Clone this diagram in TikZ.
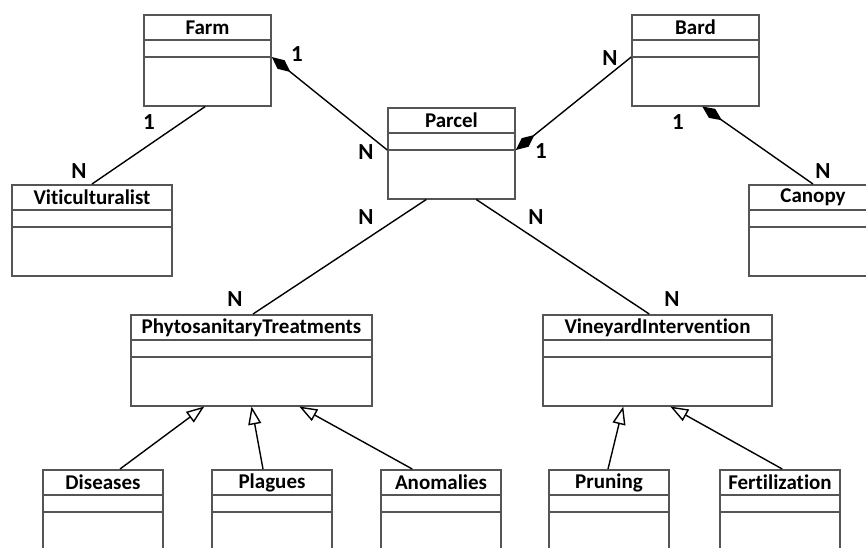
\documentclass[tikz,border=0pt]{standalone}
\usepackage{fontspec}
\setmainfont{Carlito}[Ligatures={NoCommon}]
\usetikzlibrary{arrows.meta,calc}

\definecolor{boxgray}{HTML}{555555}
\tikzset{
  classbox/.style={draw=boxgray, line width=1.5pt, fill=white, inner sep=0pt},
  classtitle/.style={font=\fontsize{21}{24}\selectfont\bfseries, inner sep=0pt, anchor=center},
  divider/.style={draw=boxgray, line width=1.5pt},
  mult/.style={font=\fontsize{23}{26}\selectfont\bfseries, inner sep=0pt},
  assoc/.style={draw=black, line width=1.4pt},
  compose/.style={assoc, {Diamond[length=24pt,width=11pt,fill=black]}-},
  inherit/.style={assoc, -{Triangle[open,length=18pt,width=13pt,fill=white]}},
}

% \umlclass{name}{centre x}{top y}{width}{title}
% header band 26, attribute band down to 43, whole class 91 high
\newcommand{\umlclass}[5]{%
  \node[classbox, minimum width=#4pt, minimum height=91pt, anchor=north] (#1) at (#2,#3) {};
  \node[classtitle] (#1-title) at ($(#1.north)+(0,13.5)$) {#5};
  \coordinate (#1-d1w) at ($(#1.north west)+(0,26)$);
  \coordinate (#1-d1e) at ($(#1.north east)+(0,26)$);
  \coordinate (#1-d2w) at ($(#1.north west)+(0,43)$);
  \coordinate (#1-d2e) at ($(#1.north east)+(0,43)$);
  \draw[divider] (#1-d1w) -- (#1-d1e);
  \draw[divider] (#1-d2w) -- (#1-d2e);
}

\begin{document}
\begin{tikzpicture}[x=1pt, y=-1pt]
  \clip (0,0) rectangle (866,547);
  \fill[white] (0,0) rectangle (866,547);

  % classes
  \umlclass{farm}{207.5}{14}{127}{Farm}
  \umlclass{bard}{695.5}{14}{127}{Bard}
  \umlclass{parcel}{451.5}{107}{127}{Parcel}
  \umlclass{viti}{92}{184}{160}{Viticulturalist}
  \umlclass{canopy}{813}{184}{128}{Canopy}
  \umlclass{phyto}{251.5}{314}{241}{PhytosanitaryTreatments}
  \umlclass{vineyard}{657.5}{314}{229}{VineyardIntervention}
  \umlclass{diseases}{103}{469}{120}{Diseases}
  \umlclass{plagues}{272}{469}{120}{Plagues}
  \umlclass{anomalies}{441}{469}{120}{Anomalies}
  \umlclass{pruning}{609}{469}{120}{Pruning}
  \umlclass{fert}{780}{469}{120}{Fertilization}

  % associations and compositions
  \draw[assoc] ($(farm.south west)+(62,0)$) -- (viti.north);
  \draw[compose] (farm-d2e) -- (parcel-d2w);
  \draw[compose] (parcel-d2e) -- (bard-d2w);
  \draw[compose] ($(bard.south west)+(71,0)$) -- (canopy.north);
  \draw[assoc] ($(parcel.south west)+(39,0)$) -- ($(phyto.north)+(1.5,0)$);
  \draw[assoc] ($(parcel.south west)+(89,0)$) -- ($(vineyard.north west)+(107,0)$);

  % generalisations
  \draw[inherit] ($(diseases.north)+(17,0)$) -- ($(phyto.south west)+(74,0)$);
  \draw[inherit] ($(plagues.north)+(-9,0)$) -- (phyto.south);
  \draw[inherit] ($(anomalies.north west)+(32,0)$) -- ($(phyto.south west)+(169,0)$);
  \draw[inherit] ($(pruning.north)+(-1,0)$) -- ($(vineyard.south west)+(81,0)$);
  \draw[inherit] ($(fert.north west)+(63,0)$) -- ($(vineyard.south west)+(128,0)$);

  % multiplicities
  \node[mult] (m-farm-parcel) at (297,54) {1};
  \node[mult] (m-farm-viti) at (149,122) {1};
  \node[mult] (m-viti) at (79,171) {N};
  \node[mult] (m-parcel-farm) at (366,152) {N};
  \node[mult] (m-parcel-bard) at (541,151) {1};
  \node[mult] (m-bard-parcel) at (610,58) {N};
  \node[mult] (m-bard-canopy) at (678,122) {1};
  \node[mult] (m-canopy) at (823,171) {N};
  \node[mult] (m-parcel-phyto) at (366,217) {N};
  \node[mult] (m-parcel-vine) at (536,217) {N};
  \node[mult] (m-phyto) at (235,299) {N};
  \node[mult] (m-vine) at (672,299) {N};
\end{tikzpicture}
\end{document}
